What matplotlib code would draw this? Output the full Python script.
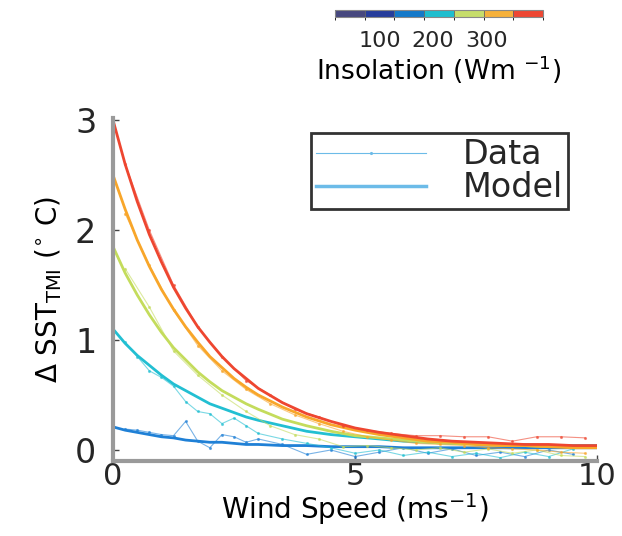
import matplotlib
matplotlib.use("Agg")
import matplotlib.pyplot as plt
from matplotlib.colors import ListedColormap, BoundaryNorm
import matplotlib.colorbar as mcolorbar

# reference text is wide, DejaVu is the widest sans we have
plt.rcParams['font.family'] = ['DejaVu Sans']
plt.rcParams['mathtext.fontset'] = 'dejavusans'
plt.rcParams['mathtext.default'] = 'regular'
plt.rcParams['text.color'] = '#262626'
plt.rcParams['xtick.labelcolor'] = '#262626'
plt.rcParams['ytick.labelcolor'] = '#262626'

# model curves (finer near 0 where they bend)
x_model = [0, 0.25, 0.5, 0.75, 1, 1.25, 1.5, 1.75, 2, 2.25, 2.5, 2.75, 3, 3.5, 4, 4.5, 5, 5.5, 6, 6.5, 7, 7.5, 8, 8.5, 9, 9.5, 10]
model_red = [3.00, 2.60, 2.26, 1.96, 1.71, 1.48, 1.29, 1.12, 0.98, 0.85, 0.74, 0.65, 0.56, 0.43, 0.33, 0.26, 0.20, 0.16, 0.13, 0.10, 0.08, 0.07, 0.06, 0.05, 0.05, 0.04, 0.04]
model_orange = [2.50, 2.19, 1.91, 1.67, 1.46, 1.28, 1.12, 0.98, 0.85, 0.75, 0.65, 0.57, 0.50, 0.39, 0.30, 0.23, 0.18, 0.14, 0.11, 0.08, 0.07, 0.05, 0.04, 0.04, 0.03, 0.02, 0.02]
model_yellow = [1.85, 1.61, 1.41, 1.23, 1.07, 0.93, 0.82, 0.71, 0.62, 0.54, 0.48, 0.42, 0.37, 0.28, 0.22, 0.17, 0.13, 0.11, 0.09, 0.07, 0.06, 0.05, 0.04, 0.04, 0.03, 0.03, 0.03]
model_cyan = [1.10, 0.97, 0.86, 0.77, 0.68, 0.60, 0.54, 0.48, 0.42, 0.38, 0.34, 0.30, 0.27, 0.22, 0.17, 0.14, 0.12, 0.10, 0.08, 0.07, 0.06, 0.06, 0.05, 0.05, 0.04, 0.04, 0.04]
model_blue = [0.21, 0.18, 0.16, 0.14, 0.12, 0.11, 0.09, 0.08, 0.07, 0.07, 0.06, 0.05, 0.05, 0.04, 0.04, 0.03, 0.03, 0.03, 0.02, 0.02, 0.02, 0.02, 0.02, 0.02, 0.02, 0.02, 0.02]

# binned data for the high insolation classes
x_data = [0.25, 0.75, 1.25, 1.75, 2.25, 2.75, 3.25, 3.75, 4.25, 4.75, 5.25, 5.75, 6.25, 6.75, 7.25, 7.75, 8.25, 8.75, 9.25, 9.75]
data_red = [2.60, 2.00, 1.50, 1.12, 0.85, 0.63, 0.50, 0.37, 0.30, 0.22, 0.18, 0.15, 0.13, 0.13, 0.12, 0.12, 0.08, 0.12, 0.12, 0.11]
data_orange = [2.15, 1.68, 1.27, 0.95, 0.72, 0.55, 0.42, 0.32, 0.24, 0.17, 0.12, 0.09, 0.06, 0.05, 0.04, 0.02, 0.01, 0.00, -0.02, -0.03]
data_yellow = [1.65, 1.30, 0.90, 0.68, 0.50, 0.35, 0.22, 0.14, 0.10, 0.03, 0.04, 0.02, 0.00, 0.02, -0.02, 0.01, -0.03, 0.00, -0.05, -0.06]

# noisier low insolation classes
x_low = [0.25, 0.5, 0.75, 1.0, 1.25, 1.5, 1.75, 2.0, 2.25, 2.5, 2.75, 3.0, 3.5, 4.0, 4.5, 5.0, 5.5, 6.0, 6.5, 7.0, 7.5, 8.0, 8.5, 9.0, 9.5]
data_cyan = [0.98, 0.85, 0.72, 0.66, 0.58, 0.44, 0.35, 0.33, 0.24, 0.29, 0.22, 0.15, 0.10, 0.06, 0.02, -0.03, 0.00, -0.05, -0.02, -0.06, -0.03, -0.07, -0.02, -0.06, 0.01]
data_blue = [0.19, 0.18, 0.16, 0.14, 0.13, 0.26, 0.08, 0.02, 0.14, 0.12, 0.07, 0.10, 0.05, -0.04, 0.00, -0.06, -0.02, 0.02, -0.03, 0.01, -0.05, -0.02, -0.06, 0.00, -0.04]

cbar_colors = ['#47487f', '#263d9c', '#1479c9', '#1fbecf', '#c6dd6b', '#f6b13b', '#ee4733']
cbar_bounds = [15, 71, 127, 183, 239, 295, 351, 407]
cbar_ticks = [100, 200, 300]

fig = plt.figure(figsize=(6.22, 5.36), dpi=100)
ax = fig.add_axes([0.1817, 0.1400, 0.7783, 0.6400])

series = [
    (x_low, data_blue, model_blue, '#1f80d6'),
    (x_low, data_cyan, model_cyan, '#22bfd2'),
    (x_data, data_yellow, model_yellow, '#c4dc5c'),
    (x_data, data_orange, model_orange, '#f8a62a'),
    (x_data, data_red, model_red, '#ee4630'),
]
for xd, yd, ym, c in series:
    ax.plot(xd, yd, color=c, lw=0.8, marker='.', ms=2.5, alpha=0.6)
    ax.plot(x_model, ym, color=c, lw=2.0, solid_joinstyle='round')

# legend proxies
ax.plot([], [], color='#6cbbe8', lw=0.8, marker='.', ms=2.5, label='Data')
ax.plot([], [], color='#6cbbe8', lw=2.5, label='Model')
leg = ax.legend(loc='upper right', bbox_to_anchor=(0.94, 0.955), fontsize=24,
                fancybox=False, framealpha=1, edgecolor='#333333',
                handlelength=3.3, handletextpad=1.1, borderpad=0.15,
                labelspacing=0.0, borderaxespad=0)
leg.get_frame().set_linewidth(2)

ax.set_xlim(0, 10)
ax.set_ylim(-0.1, 3.02)
ax.set_xticks([0, 5, 10])
ax.set_yticks([0, 1, 2, 3])
for s in ['top', 'right']:
    ax.spines[s].set_visible(False)
for s in ['left', 'bottom']:
    ax.spines[s].set_color('#9a9a9a')
    ax.spines[s].set_linewidth(3)
ax.tick_params(direction='in', length=4, width=1, color='#444444', labelsize=24)
ax.tick_params(axis='y', pad=12)
ax.tick_params(axis='x', pad=1, labelsize=22)
ax.set_xlabel('Wind Speed (ms$^{-1}$)', fontsize=20, labelpad=0)
ax.set_ylabel(r'$\Delta$ SST$_{TMI}$ ($^{\circ}$ C)', fontsize=20, labelpad=8)

# insolation colour bar at the top
cax = fig.add_axes([0.5386, 0.968, 0.3344, 0.013])
cmap = ListedColormap(cbar_colors)
norm = BoundaryNorm(cbar_bounds, cmap.N)
cb = mcolorbar.ColorbarBase(cax, cmap=cmap, norm=norm, orientation='horizontal',
                            ticks=cbar_ticks, drawedges=True)
cb.outline.set_edgecolor('#888888')
cb.outline.set_linewidth(0.8)
cb.dividers.set_color('#666666')
cb.dividers.set_linewidth(0.6)
cax.tick_params(length=0, labelsize=16, pad=10)
cax.set_xticklabels([str(t) for t in cbar_ticks])
cb.set_label('Insolation (Wm $^{-1}$)', fontsize=19, labelpad=2)

fig.savefig('out.png', dpi=100)
